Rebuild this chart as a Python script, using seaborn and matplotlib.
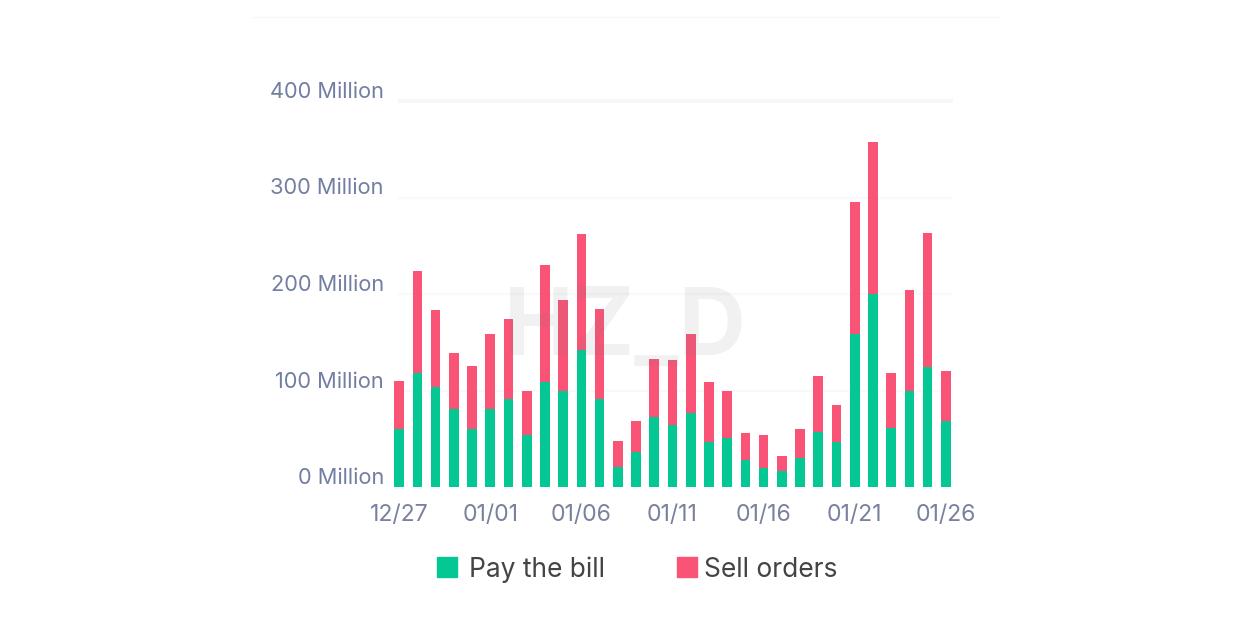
import matplotlib
matplotlib.use('Agg')
import matplotlib.pyplot as plt
from matplotlib.patches import Rectangle
from matplotlib.transforms import ScaledTranslation
import seaborn as sns
import pandas as pd

# date labels for each bar, one per day
days = ['12/27','12/28','12/29','12/30','12/31','01/01','01/02','01/03','01/04','01/05','01/06',
        '01/07','01/08','01/09','01/10','01/11','01/12','01/13','01/14','01/15','01/16','01/17',
        '01/18','01/19','01/20','01/21','01/22','01/23','01/24','01/25','01/26']
pay_bill = [60,118,104,81,60,81,91,54,109,100,142,91,21,36,73,64,77,47,51,28,20,17,30,57,47,159,200,61,99,124,68]
totals = [110,224,183,139,125,159,174,99,230,194,262,184,48,68,133,132,159,109,100,56,54,32,60,115,85,295,358,118,204,263,120]
yticks = [0,100,200,300,400]
xlabels = ['12/27','01/01','01/06','01/11','01/16','01/21','01/26']

df = pd.DataFrame({'day': days, 'pay': pay_bill, 'total': totals})

W, H = 1254, 641
GREEN = '#05c794'
PINK = '#f95376'

sns.set_theme(style='white')
plt.rcParams['font.family'] = ['Inter', 'DejaVu Sans']

fig = plt.figure(figsize=(W/100, H/100), dpi=100)
ax = fig.add_axes([390/W, 1-487/H, 565/W, 386/H])

# totals first, green goes over it so the stack shows
sns.barplot(data=df, x='day', y='total', color=PINK, saturation=1, width=0.53, linewidth=0, ax=ax)
sns.barplot(data=df, x='day', y='pay', color=GREEN, saturation=1, width=0.53, linewidth=0, ax=ax)

ax.set_xlim(-0.5, len(days)-0.5)
ax.set_ylim(0, 400)
ax.set_xlabel('')
ax.set_ylabel('')
ax.set_yticks(yticks)
ax.set_yticklabels([f'{v} Million' for v in yticks])
ax.set_xticks([days.index(d) for d in xlabels])
ax.set_xticklabels(xlabels)
ax.tick_params(axis='both', length=0)
ax.tick_params(axis='y', pad=4.5, labelsize=15.7, labelcolor='#737ea3')
ax.tick_params(axis='x', pad=12, labelsize=16.6, labelcolor='#7a819e')

# y labels sit above their grid line in the original
up = ScaledTranslation(0, 11/100, fig.dpi_scale_trans)
for lab in ax.get_yticklabels():
    lab.set_transform(lab.get_transform() + up)

# grid starts right of the first bar centre, so no ax.grid here
ax.hlines(yticks[1:4], -0.05, 30.39, color='#f9f9f9', linewidth=1.5, zorder=0)
ax.hlines(yticks[4], -0.05, 30.39, color='#f7f7f7', linewidth=3, zorder=0, clip_on=False)
sns.despine(ax=ax, left=True, bottom=True)

# legend by hand, gaps are not even in the original
fig.add_artist(Rectangle((437/W, 1-577/H), 20/W, 20/H, color=GREEN, transform=fig.transFigure))
fig.add_artist(Rectangle((677/W, 1-577/H), 20/W, 20/H, color=PINK, transform=fig.transFigure))
fig.text(469/W, 1-567/H, 'Pay the bill', fontsize=19, color='#444444', va='center_baseline')
fig.text(704/W, 1-567/H, 'Sell orders', fontsize=19, color='#444444', va='center_baseline')

# top hairline and faint watermark
fig.add_artist(plt.Line2D([252/W, 1000/W], [1-17/H, 1-17/H], color='#f6f6f6', linewidth=1))
fig.text(625/W, 1-355/H, 'HZ_D', fontsize=67, fontweight='bold', color='#808080', alpha=0.11,
         ha='center', va='baseline', zorder=5)

fig.savefig('out.png', dpi=100)
